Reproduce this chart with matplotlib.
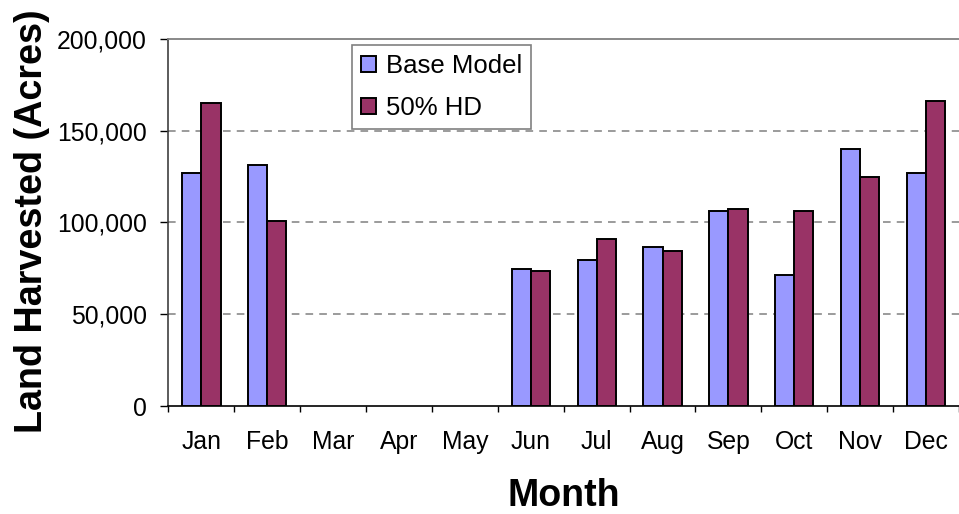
import matplotlib
matplotlib.use("Agg")
import matplotlib.pyplot as plt
import numpy as np
from matplotlib.ticker import FuncFormatter, FixedLocator

plt.rcParams["font.family"] = ["Liberation Sans", "DejaVu Sans"]

# Data
months = ["Jan", "Feb", "Mar", "Apr", "May", "Jun",
          "Jul", "Aug", "Sep", "Oct", "Nov", "Dec"]
base_model = [127000, 131500, 0, 0, 0, 74800,
              79300, 86800, 106200, 71500, 140100, 126900]
hd_50 = [165000, 101000, 0, 0, 0, 73700,
         91100, 84600, 107300, 106200, 124900, 166300]

BASE_COLOUR = "#9999FF"
HD_COLOUR = "#993366"

fig = plt.figure(figsize=(9.59, 5.14), dpi=100)
ax = fig.add_axes([0.1757, 0.2101, 0.8243, 0.7146])

x = np.arange(len(months))
width = 0.29


def edge_widths(values):
    # empty months get no outline, like the original
    return [1.4 if v > 0 else 0 for v in values]


ax.bar(x - width / 2, base_model, width, color=BASE_COLOUR,
       edgecolor="black", linewidth=edge_widths(base_model),
       label="Base Model", zorder=3)
ax.bar(x + width / 2, hd_50, width, color=HD_COLOUR,
       edgecolor="black", linewidth=edge_widths(hd_50),
       label="50% HD", zorder=3)

ax.set_xlim(-0.5, len(months) - 0.5)
ax.set_ylim(0, 200000)

# y axis
ax.set_yticks([0, 50000, 100000, 150000, 200000])
ax.yaxis.set_major_formatter(FuncFormatter(lambda v, p: f"{int(v):,}"))
ax.tick_params(axis="y", direction="out", length=5.8, width=1,
               pad=10, labelsize=17.8, colors="black")

# x axis: labels at centres, ticks between categories
ax.set_xticks(x)
ax.set_xticklabels(months)
ax.xaxis.set_minor_locator(FixedLocator(np.arange(-0.5, len(months), 1.0)))
ax.tick_params(axis="x", which="major", length=0, pad=17, labelsize=17.8)
ax.tick_params(axis="x", which="minor", direction="out", length=4.3, width=1)

for v in [50000, 100000, 150000]:
    ax.axhline(v, color="#808080", linewidth=1.1,
               linestyle=(0, (5, 4)), zorder=1)

ax.spines["top"].set_color("#808080")
ax.spines["top"].set_linewidth(1.3)
ax.spines["right"].set_visible(False)
ax.spines["left"].set_color("#404040")
ax.spines["left"].set_linewidth(1.2)
ax.spines["bottom"].set_color("black")
ax.spines["bottom"].set_linewidth(1.2)

leg = ax.legend(loc="upper left", bbox_to_anchor=(352 / 959, 1 - 45 / 514),
                bbox_transform=fig.transFigure, fontsize=18.5,
                frameon=True, fancybox=False, framealpha=1,
                edgecolor="#808080", borderpad=0.35, labelspacing=0.7,
                handlelength=0.6, handleheight=0.58, handletextpad=0.38,
                borderaxespad=0)
leg.get_frame().set_linewidth(1.2)

fig.text(32.5 / 959, 1 - 221 / 514, "Land Harvested (Acres)",
         rotation=90, fontsize=27.2, fontweight="bold",
         ha="center", va="center")
fig.text(563.5 / 959, 1 - 505.5 / 514, "Month",
         fontsize=27, fontweight="bold", ha="center", va="baseline")

fig.savefig("out.png", dpi=100)
